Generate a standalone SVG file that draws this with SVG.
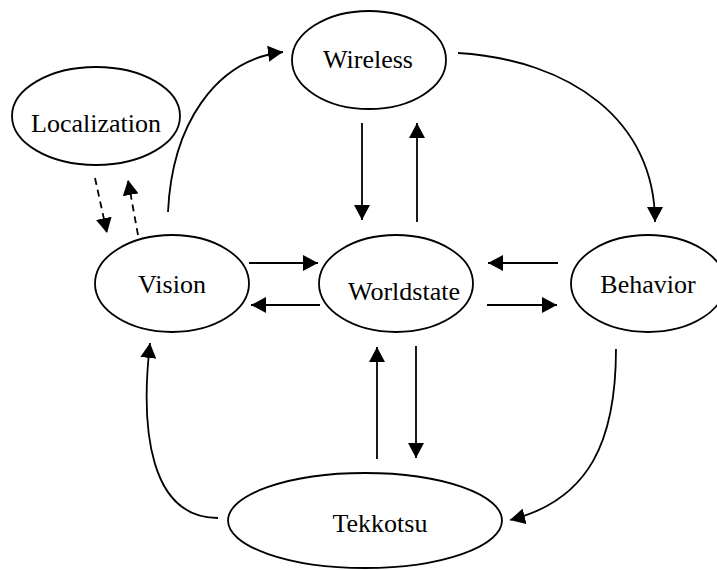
<svg xmlns="http://www.w3.org/2000/svg" width="717" height="570" viewBox="0 0 717 570">
  <style>
    .node ellipse { fill: #ffffff; stroke: #000000; stroke-width: 1.8; }
    .node text { font-family: 'Liberation Serif', 'DejaVu Serif', serif; font-size: 26px; fill: #000000; text-anchor: middle; }
    .edge { fill: none; stroke: #000000; stroke-width: 1.8; marker-end: url(#head); }
    .dashed { stroke-dasharray: 7 5; }
  </style>
  <defs>
    <marker id="head" markerUnits="userSpaceOnUse" markerWidth="16" markerHeight="16" refX="15" refY="8" orient="auto" viewBox="0 0 16 16">
      <path d="M0,0 L15,8 L0,16 z" fill="#000000"/>
    </marker>
  </defs>
  <rect width="717" height="570" fill="#ffffff"/>

  <g id="connectors">
    <!-- Wireless <-> Worldstate -->
    <path class="edge" d="M362,123 L362,220"/>
    <path class="edge" d="M417,222 L417,123"/>
    <!-- Vision <-> Worldstate -->
    <path class="edge" d="M249,263 L318,263"/>
    <path class="edge" d="M320,305 L251,305"/>
    <!-- Behavior <-> Worldstate -->
    <path class="edge" d="M558,263 L488,263"/>
    <path class="edge" d="M487,305 L557,305"/>
    <!-- Tekkotsu <-> Worldstate -->
    <path class="edge" d="M377,459 L377,347"/>
    <path class="edge" d="M416,346 L416,458"/>
    <!-- outer loop -->
    <path class="edge" d="M168,212 C172,125 215,60 283,52"/>
    <path class="edge" d="M458,53 C570,60 655,120 655,222"/>
    <path class="edge" d="M616,349 C616,440 590,500 510,520"/>
    <path class="edge" d="M218,518 C150,518 140,430 150,343"/>
    <!-- Localization <-> Vision -->
    <path class="edge dashed" d="M95,178 L107,233"/>
    <path class="edge dashed" d="M138,235 L128,180"/>
  </g>

  <g id="localization" class="node">
    <ellipse cx="96" cy="116" rx="84" ry="49"/>
    <text x="96" y="132" font-family="Liberation Serif, serif">Localization</text>
  </g>
  <g id="wireless" class="node">
    <ellipse cx="369" cy="60" rx="77" ry="49"/>
    <text x="368" y="68" font-family="Liberation Serif, serif">Wireless</text>
  </g>
  <g id="vision" class="node">
    <ellipse cx="172" cy="283.5" rx="77" ry="48.5"/>
    <text x="172" y="293" font-family="Liberation Serif, serif">Vision</text>
  </g>
  <g id="worldstate" class="node">
    <ellipse cx="396" cy="283.5" rx="77" ry="48.5"/>
    <text x="404" y="300" font-family="Liberation Serif, serif">Worldstate</text>
  </g>
  <g id="behavior" class="node">
    <ellipse cx="648" cy="283.5" rx="77" ry="48.5"/>
    <text x="648" y="293" font-family="Liberation Serif, serif">Behavior</text>
  </g>
  <g id="tekkotsu" class="node">
    <ellipse cx="365" cy="520.5" rx="137" ry="47.5"/>
    <text x="380" y="532" font-family="Liberation Serif, serif">Tekkotsu</text>
  </g>
</svg>
